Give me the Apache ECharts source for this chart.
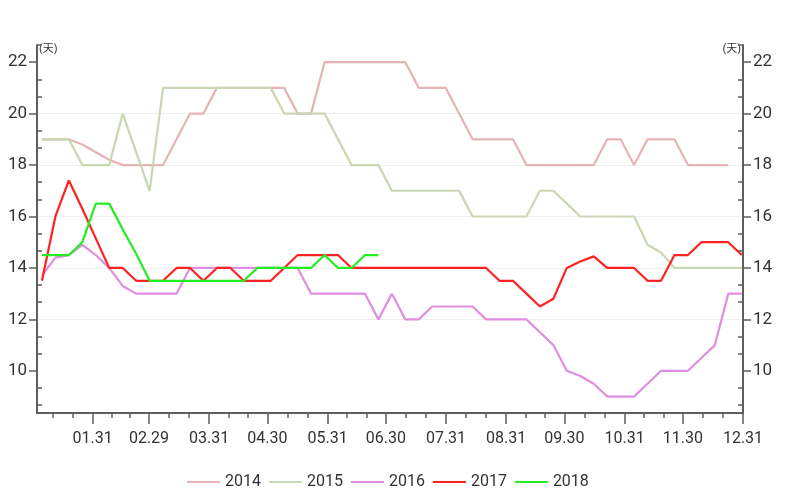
<!DOCTYPE html>
<html>
<head>
<meta charset="utf-8">
<script src="https://cdn.jsdelivr.net/npm/echarts@6/dist/echarts.min.js"></script>
<style>
  html, body { margin: 0; padding: 0; background: #ffffff; }
  #chart { width: 800px; height: 500px; }
</style>
</head>
<body>
<div id="chart"></div>
<script>
// ---- data (weekly observations, in days) ----
const seriesNames = ['2014', '2015', '2016', '2017', '2018'];

const v2014 = [19, 19, 19, 18.8, 18.5, 18.2, 18, 18, 18, 18, 19, 20, 20, 21, 21, 21, 21, 21, 21, 20,
  20, 22, 22, 22, 22, 22, 22, 22, 21, 21, 21, 20, 19, 19, 19, 19, 18, 18, 18, 18,
  18, 18, 19, 19, 18, 19, 19, 19, 18, 18, 18, 18];

const v2015 = [19, 19, 19, 18, 18, 18, 20, 18.5, 17, 21, 21, 21, 21, 21, 21, 21, 21, 21, 20, 20,
  20, 20, 19, 18, 18, 18, 17, 17, 17, 17, 17, 17, 16, 16, 16, 16, 16, 17, 17, 16.5,
  16, 16, 16, 16, 16, 14.9, 14.6, 14, 14, 14, 14, 14, 14];

const v2016 = [13.7, 14.4, 14.5, 14.9, 14.5, 14, 13.3, 13, 13, 13, 13, 14, 14, 14, 14, 14, 14, 14, 14, 14,
  13, 13, 13, 13, 13, 12, 13, 12, 12, 12.5, 12.5, 12.5, 12.5, 12, 12, 12, 12, 11.5, 11, 10,
  9.8, 9.5, 9, 9, 9, 9.5, 10, 10, 10, 10.5, 11, 13, 13];

const v2017 = [13.5, 16, 17.4, 16.3, 15.15, 14, 14, 13.5, 13.5, 13.5, 14, 14, 13.5, 14, 14, 13.5, 13.5, 13.5, 14, 14.5,
  14.5, 14.5, 14.5, 14, 14, 14, 14, 14, 14, 14, 14, 14, 14, 14, 13.5, 13.5, 13, 12.5, 12.8, 14,
  14.25, 14.45, 14, 14, 14, 13.5, 13.5, 14.5, 14.5, 15, 15, 15, 14.5];

const v2018 = [14.5, 14.5, 14.5, 15, 16.5, 16.5, 15.5, 14.55, 13.5, 13.5, 13.5, 13.5, 13.5, 13.5, 13.5, 13.5, 14, 14, 14, 14,
  14, 14.5, 14, 14, 14.5, 14.5];

// x axis: day of year; weekly observation i sits at FIRST_WEEK_DAY + i * WEEK_STEP_DAYS
const FIRST_WEEK_DAY = 4.85;
const WEEK_STEP_DAYS = 6.933;

const monthEndDays = [31, 60, 91, 121, 152, 182, 213, 244, 274, 305, 335, 366];
const monthEndLabels = ['01.31', '02.29', '03.31', '04.30', '05.31', '06.30',
  '07.31', '08.31', '09.30', '10.31', '11.30', '12.31'];

const yTickLabels = [10, 12, 14, 16, 18, 20, 22];

const colors = ['#e6b3b6', '#c9d7b3', '#e08ee0', '#ff2222', '#22ee22'];

// ---- helpers ----
const X_MIN = 2.3, X_MAX = 366;
const Y_MIN = 8.36, Y_MAX = 22.667;

const minorDays = [];
monthEndDays.forEach((e, m) => {
  const s = m === 0 ? 0 : monthEndDays[m - 1];
  minorDays.push(s + (e - s) / 3, s + 2 * (e - s) / 3);
});
const yMinor = [];
[10].concat(yTickLabels).forEach(v => {
  yMinor.push(v - 4 / 3, v - 2 / 3);
});
yMinor.push(22 + 2 / 3);

function toPairs(vals) {
  return vals.map((v, i) => [FIRST_WEEK_DAY + i * WEEK_STEP_DAYS, v]);
}

const axisColor = '#5e5e5e';
const fontFamily = 'Roboto, "Noto Sans CJK SC", sans-serif';

const mainY = (pos) => ({
  type: 'value',
  position: pos,
  min: Y_MIN,
  max: Y_MAX,
  splitNumber: 7,
  name: '(天)',
  nameLocation: 'end',
  nameGap: -4,
  nameTextStyle: {
    align: pos === 'left' ? 'left' : 'right',
    verticalAlign: 'middle',
    padding: pos === 'left' ? [0, 0, 0, 2] : [0, 2, 0, 0],
    fontSize: 11,
    color: '#333',
    fontFamily: fontFamily
  },
  axisLine: { show: true, onZero: false, lineStyle: { color: axisColor, width: 2 } },
  axisTick: { show: true, customValues: yTickLabels, length: 8, lineStyle: { color: axisColor, width: 1.5 } },
  axisLabel: { customValues: yTickLabels, margin: 10, fontSize: 17, color: '#333', fontFamily: fontFamily },
  splitLine: pos === 'left'
    ? { show: true, showMinLine: false, showMaxLine: false, lineStyle: { color: '#f0f0f0', width: 1 } }
    : { show: false }
});

const minorY = (pos) => ({
  type: 'value',
  position: pos,
  min: Y_MIN,
  max: Y_MAX,
  axisLine: { show: false },
  axisTick: { show: true, inside: true, customValues: yMinor, length: 5, lineStyle: { color: axisColor, width: 1.5 } },
  axisLabel: { show: false },
  splitLine: { show: false }
});

const option = {
  animation: false,
  backgroundColor: '#ffffff',
  color: colors,
  grid: { left: 37, right: 57, top: 45, bottom: 87 },
  legend: {
    data: seriesNames,
    left: 182,
    top: 469,
    icon: 'rect',
    itemWidth: 33,
    itemHeight: 2,
    itemGap: 8,
    textStyle: { fontSize: 16, color: '#333', fontFamily: fontFamily }
  },
  xAxis: [
    {
      type: 'value',
      position: 'bottom',
      min: X_MIN,
      max: X_MAX,
      axisLine: { show: true, onZero: false, lineStyle: { color: axisColor, width: 2 } },
      axisTick: { show: true, customValues: monthEndDays, length: 11, lineStyle: { color: axisColor, width: 1.5 } },
      axisLabel: {
        customValues: monthEndDays,
        formatter: (v) => {
          const k = monthEndDays.indexOf(v);
          return k >= 0 ? monthEndLabels[k] : '';
        },
        margin: 18,
        fontSize: 16,
        color: '#333',
        fontFamily: fontFamily
      },
      splitLine: { show: false }
    },
    {
      type: 'value',
      position: 'bottom',
      min: X_MIN,
      max: X_MAX,
      axisLine: { show: false, onZero: false },
      axisTick: { show: true, customValues: minorDays, length: 5, lineStyle: { color: axisColor, width: 1.5 } },
      axisLabel: { show: false },
      splitLine: { show: false }
    }
  ],
  yAxis: [mainY('left'), minorY('left'), mainY('right'), minorY('right')],
  series: [v2014, v2015, v2016, v2017, v2018].map((vals, k) => ({
    name: seriesNames[k],
    type: 'line',
    xAxisIndex: 0,
    yAxisIndex: 0,
    data: toPairs(vals),
    showSymbol: false,
    symbol: 'none',
    lineStyle: { width: 2.2, color: colors[k] },
    itemStyle: { color: colors[k] }
  }))
};

const chart = echarts.init(document.getElementById('chart'), null, { renderer: 'canvas' });
chart.setOption(option);
</script>
</body>
</html>
